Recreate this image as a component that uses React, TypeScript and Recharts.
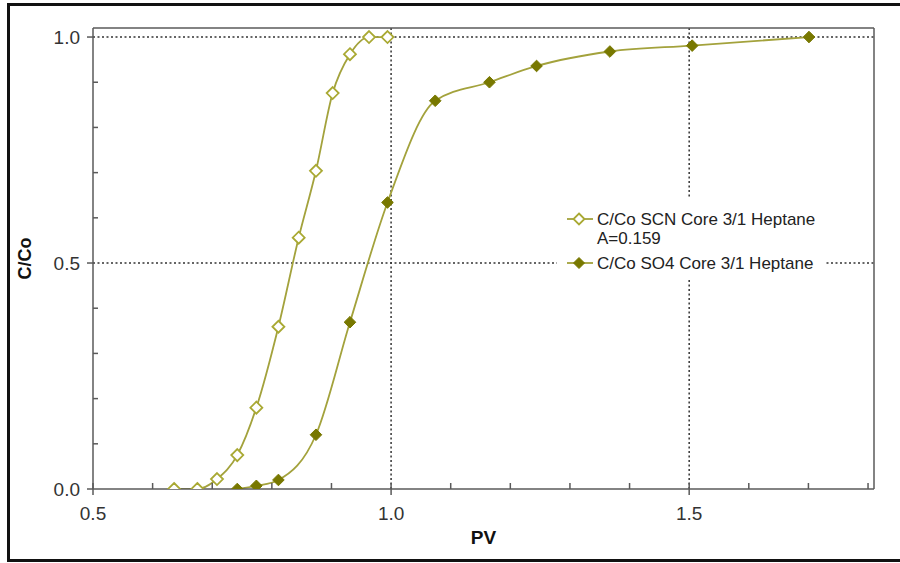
import React from 'react';
import { LineChart, Line, XAxis, YAxis, ReferenceLine, Legend } from 'recharts';

// ---- Data ----
const scnPV = [0.636, 0.675, 0.708, 0.742, 0.774, 0.811, 0.845, 0.874, 0.902, 0.931, 0.963, 0.994];
const scnC = [0.0, 0.0, 0.022, 0.075, 0.18, 0.359, 0.556, 0.704, 0.876, 0.962, 1.0, 1.0];
const so4PV = [0.742, 0.774, 0.811, 0.874, 0.931, 0.994, 1.074, 1.165, 1.244, 1.367, 1.505, 1.701];
const so4C = [0.0, 0.007, 0.02, 0.12, 0.369, 0.634, 0.859, 0.9, 0.936, 0.968, 0.981, 1.0];

const seriesNames = ['C/Co SCN Core 3/1 Heptane', 'C/Co SO4 Core 3/1 Heptane'];
const scnNote = 'A=0.159';

const xTicks = [0.5, 0.6, 0.7, 0.8, 0.9, 1.0, 1.1, 1.2, 1.3, 1.4, 1.5, 1.6, 1.7, 1.8];
const xMajor = [0.5, 1.0, 1.5];
const yTicks = [0, 0.1, 0.2, 0.3, 0.4, 0.5, 0.6, 0.7, 0.8, 0.9, 1.0];
const yMajor = [0, 0.5, 1.0];
const xDomain = [0.5, 1.81];
const yDomain = [0, 1.02];
const xGrid = [1.0, 1.5];
const yGrid = [0.5, 1.0];
const xTitle = 'PV';
const yTitle = 'C/Co';

const scnData = scnPV.map((pv, i) => ({ pv, c: scnC[i] }));
const so4Data = so4PV.map((pv, i) => ({ pv, c: so4C[i] }));

const FONT = '"Liberation Sans", Arial, Helvetica, sans-serif';
const AXIS = '#5a5a5a';
const LINE = '#a3a23c';
const OPEN = '#a9a933';
const FILLED = '#787800';

const isMajor = (list: number[], v: number) => list.some((m) => Math.abs(m - v) < 1e-6);

const XTick = (props: any) => {
  const { x, y, payload } = props;
  const v = payload.value as number;
  const major = isMajor(xMajor, v);
  return (
    <g>
      <line x1={x} x2={x} y1={y - 6} y2={major ? y + 6 : y} stroke={AXIS} strokeWidth={1.5} />
      {major && (
        <text x={x} y={y + 24} textAnchor="middle" dominantBaseline="central" fontFamily={FONT} fontSize={19} fill="#333">
          {v.toFixed(1)}
        </text>
      )}
    </g>
  );
};

const YTick = (props: any) => {
  const { x, y, payload } = props;
  const v = payload.value as number;
  const major = isMajor(yMajor, v);
  return (
    <g>
      <line x1={major ? x - 6 : x} x2={major ? x : x + 5} y1={y} y2={y} stroke={AXIS} strokeWidth={1.5} />
      {major && (
        <text x={x - 13} y={y} textAnchor="end" dominantBaseline="central" fontFamily={FONT} fontSize={19} fill="#333">
          {v.toFixed(1)}
        </text>
      )}
    </g>
  );
};

const diamond = (cx: number, cy: number, r: number) =>
  `M${cx},${cy - r} L${cx + r},${cy} L${cx},${cy + r} L${cx - r},${cy} Z`;

const OpenDot = (props: any) => {
  const { cx, cy, index } = props;
  return <path key={`scn-${index}`} d={diamond(cx, cy, 6)} fill="#fff" stroke={OPEN} strokeWidth={1.8} />;
};

const FilledDot = (props: any) => {
  const { cx, cy, index } = props;
  return <path key={`so4-${index}`} d={diamond(cx, cy, 5.8)} fill={FILLED} stroke={FILLED} strokeWidth={1} />;
};

const renderLegend = () => (
  <div style={{ background: '#fff', width: 268, height: 80 }}>
    <svg width={268} height={80} style={{ display: 'block' }}>
      <line x1={10} x2={36} y1={21} y2={21} stroke={LINE} strokeWidth={1.8} />
      <path d={diamond(22, 21, 5.5)} fill="#fff" stroke={OPEN} strokeWidth={1.8} />
      <text x={40} y={21} dominantBaseline="central" fontFamily={FONT} fontSize={17} fill="#222">
        {seriesNames[0]}
      </text>
      <text x={40} y={40} dominantBaseline="central" fontFamily={FONT} fontSize={17} fill="#222">
        {scnNote}
      </text>
      <line x1={10} x2={36} y1={65} y2={65} stroke={LINE} strokeWidth={1.8} />
      <path d={diamond(22, 65, 5.5)} fill={FILLED} stroke={FILLED} strokeWidth={1} />
      <text x={40} y={65} dominantBaseline="central" fontFamily={FONT} fontSize={17} fill="#222">
        {seriesNames[1]}
      </text>
    </svg>
  </div>
);

const YTitle = (props: any) => {
  const vb = props.viewBox;
  const cx = vb.x + 25;
  const cy = vb.y + vb.height / 2;
  return (
    <text x={cx} y={cy} textAnchor="middle" dominantBaseline="central" transform={`rotate(-90 ${cx} ${cy})`} fontFamily={FONT} fontSize={18} fontWeight="bold" fill="#111">
      {yTitle}
    </text>
  );
};

const XTitle = (props: any) => {
  const vb = props.viewBox;
  const cx = vb.x + vb.width / 2;
  const cy = vb.y + 48;
  return (
    <text x={cx} y={cy} textAnchor="middle" dominantBaseline="central" fontFamily={FONT} fontSize={19} fontWeight="bold" fill="#111">
      {xTitle}
    </text>
  );
};

export default function App() {
  return (
    <div style={{ position: 'absolute', left: 0, top: 0, width: 900, height: 563, overflow: 'hidden', background: '#fff' }}>
      <LineChart width={900} height={563} margin={{ top: 28, right: 26, bottom: 0, left: 0 }}>
        <XAxis
          type="number"
          dataKey="pv"
          domain={xDomain}
          ticks={xTicks}
          interval={0}
          allowDataOverflow
          height={74}
          tickSize={0}
          tickMargin={0}
          tickLine={false}
          tick={<XTick />}
          axisLine={{ stroke: AXIS, strokeWidth: 1.5 }}
          label={<XTitle />}
        />
        <YAxis
          type="number"
          dataKey="c"
          domain={yDomain}
          ticks={yTicks}
          interval={0}
          allowDataOverflow
          width={93}
          tickSize={0}
          tickMargin={0}
          tickLine={false}
          tick={<YTick />}
          axisLine={{ stroke: AXIS, strokeWidth: 1.5 }}
          label={<YTitle />}
        />
        {yGrid.map((v) => (
          <ReferenceLine key={`gy${v}`} y={v} stroke="#333" strokeWidth={1.5} strokeDasharray="2 2.5" />
        ))}
        {xGrid.map((v) => (
          <ReferenceLine key={`gx${v}`} x={v} stroke="#333" strokeWidth={1.5} strokeDasharray="2 2.5" />
        ))}
        <ReferenceLine y={yDomain[1]} stroke={AXIS} strokeWidth={1.5} />
        <ReferenceLine x={xDomain[1]} stroke={AXIS} strokeWidth={1.5} />
        <Line
          data={scnData}
          dataKey="c"
          name={seriesNames[0]}
          type="monotone"
          stroke={LINE}
          strokeWidth={1.8}
          dot={OpenDot}
          activeDot={false}
          isAnimationActive={false}
        />
        <Line
          data={so4Data}
          dataKey="c"
          name={seriesNames[1]}
          type="monotone"
          stroke={LINE}
          strokeWidth={1.8}
          dot={FilledDot}
          activeDot={false}
          isAnimationActive={false}
        />
        <Legend
          layout="vertical"
          align="center"
          verticalAlign="middle"
          content={renderLegend}
          wrapperStyle={{ left: 557, top: 198, width: 268, height: 80 }}
        />
      </LineChart>
      <div
        style={{
          position: 'absolute',
          left: 7,
          top: 3,
          width: 920,
          height: 553,
          border: '3.5px solid #111',
          pointerEvents: 'none',
        }}
      />
    </div>
  );
}
